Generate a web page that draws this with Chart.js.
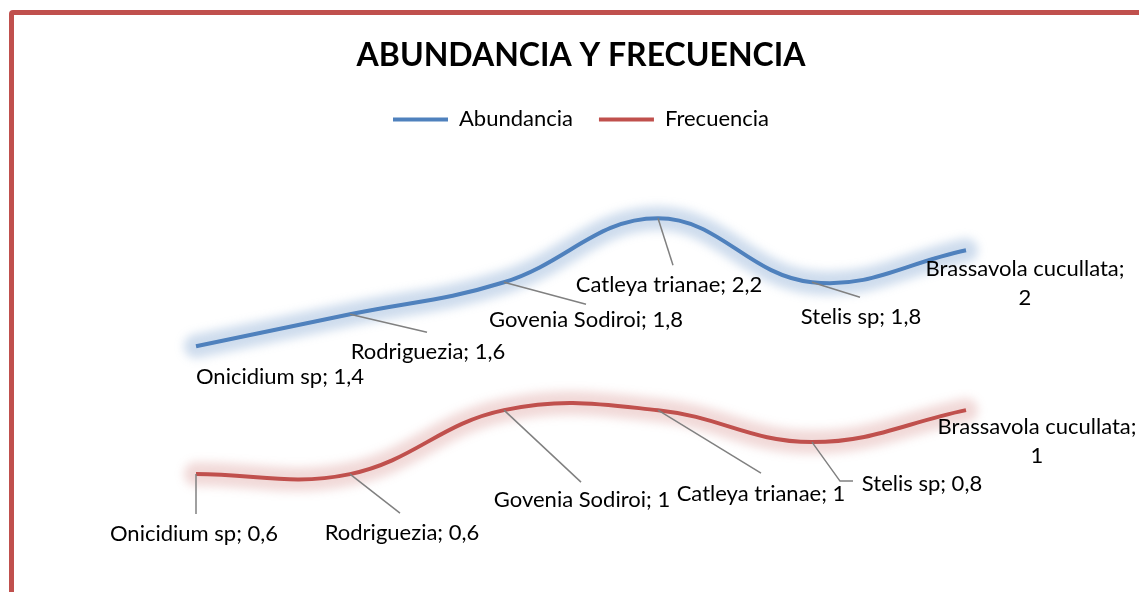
<!DOCTYPE html>
<html>
<head>
<meta charset="utf-8">
<script src="https://cdn.jsdelivr.net/npm/chart.js@4"></script>
<style>
  html, body { margin: 0; padding: 0; background: #fff; overflow: hidden; }
  #marco { position: absolute; left: 9px; top: 10px; width: 1400px; height: 900px;
           border: 5px solid #c0504d; border-radius: 4px; }
  #caja { position: absolute; left: 0; top: 0; width: 1139px; height: 592px; }
</style>
</head>
<body>
<div id="marco"></div>
<div id="caja"><canvas id="grafica"></canvas></div>
<script>
// datos
var categorias = ['Onicidium sp', 'Rodriguezia', 'Govenia Sodiroi', 'Catleya trianae', 'Stelis sp', 'Brassavola cucullata'];
var abundancia = [1.4, 1.6, 1.8, 2.2, 1.8, 2];
var frecuencia = [0.6, 0.6, 1, 1, 0.8, 1];

var azul = '#4f81bd';
var rojo = '#c0504d';
var fuente = 'Lato, "Open Sans", sans-serif';

// donde va cada etiqueta respecto a su punto (dx, dy del centro del texto) y la linea guia
var posAbundancia = [
    {dx: 84, dy: 31},
    {dx: 78, dy: 38, guia: [[77, 18]]},
    {dx: 82, dy: 38, guia: [[82, 22]]},
    {dx: 11, dy: 67, guia: [[15, 47]]},
    {dx: 49, dy: 35, guia: [[48, 15]]},
    {dx: 59, dy: 19, partir: true}
];
var posFrecuencia = [
    {dx: -2, dy: 60, guia: [[0, 40]]},
    {dx: 52, dy: 59, guia: [[50, 39]]},
    {dx: 78, dy: 90, guia: [[77, 72]]},
    {dx: 103, dy: 84, guia: [[103, 63]]},
    {dx: 110, dy: 42, guia: [[28, 39], [41, 39]]},
    {dx: 71, dy: 17, partir: true}
];

function numero(v){
    return String(v).replace('.', ',');
}

// halo difuso debajo de cada linea
var brillo = {
    id: 'brillo',
    beforeDatasetDraw(chart, args){
        var ctx = chart.ctx;
        var el = args.meta.dataset;
        var o = el.options;
        var ancho = o.borderWidth, color = o.borderColor, punta = o.borderCapStyle;
        ctx.save();
        ctx.filter = 'blur(5px)';
        o.borderWidth = 24;
        o.borderCapStyle = 'round';
        o.borderColor = chart.data.datasets[args.index].brillo;
        el.draw(ctx, chart.chartArea);
        ctx.restore();
        o.borderWidth = ancho;
        o.borderColor = color;
        o.borderCapStyle = punta;
    }
};

var etiquetas = {
    id: 'etiquetas',
    afterDatasetsDraw(chart, args, opts){
        var ctx = chart.ctx;
        ctx.save();
        ctx.font = '22px ' + fuente;
        ctx.textAlign = 'center';
        ctx.textBaseline = 'middle';
        chart.data.datasets.forEach(function(ds, i){
            var meta = chart.getDatasetMeta(i);
            var pos = opts.pos[i];
            meta.data.forEach(function(pt, j){
                var p = pos[j];
                if (p.guia) {
                    ctx.strokeStyle = '#808080';
                    ctx.lineWidth = 1.5;
                    ctx.beginPath();
                    ctx.moveTo(pt.x, pt.y);
                    p.guia.forEach(function(g){ ctx.lineTo(pt.x + g[0], pt.y + g[1]); });
                    ctx.stroke();
                }
                ctx.fillStyle = '#000';
                if (p.partir) {
                    ctx.fillText(chart.data.labels[j] + ';', pt.x + p.dx, pt.y + p.dy);
                    ctx.fillText(numero(ds.data[j]), pt.x + p.dx, pt.y + p.dy + 29);
                } else {
                    ctx.fillText(chart.data.labels[j] + '; ' + numero(ds.data[j]), pt.x + p.dx, pt.y + p.dy);
                }
            });
        });
        ctx.restore();
    }
};

var ctx = document.getElementById('grafica').getContext('2d');

var grafica = new Chart(ctx, {
    type: 'line',
    data: {
        labels: categorias,
        datasets: [{
            label: 'Abundancia',
            data: abundancia,
            borderColor: azul,
            backgroundColor: azul,
            brillo: 'rgba(79,129,189,0.28)',
            borderWidth: 4,
            tension: 0.4,
            pointRadius: 0
        }, {
            label: 'Frecuencia',
            data: frecuencia,
            borderColor: rojo,
            backgroundColor: rojo,
            brillo: 'rgba(192,80,77,0.22)',
            borderWidth: 4,
            tension: 0.4,
            pointRadius: 0
        }]
    },
    options: {
        responsive: true,
        maintainAspectRatio: false,
        animation: false,
        layout: { padding: { left: 119, right: 96, top: 0, bottom: 22 } },
        scales: {
            x: { display: false, offset: true },
            y: { display: false, min: 0, max: 2.6875 }
        },
        plugins: {
            title: {
                display: true,
                text: 'ABUNDANCIA Y FRECUENCIA',
                color: '#000',
                font: { family: fuente, size: 32, weight: 'bold' },
                padding: { top: 36, bottom: 8 }
            },
            legend: {
                labels: {
                    color: '#000',
                    font: { family: fuente, size: 22 },
                    usePointStyle: true,
                    pointStyle: 'line',
                    pointStyleWidth: 55,
                    boxHeight: 22,
                    padding: 26
                }
            },
            tooltip: { enabled: false },
            etiquetas: { pos: [posAbundancia, posFrecuencia] }
        }
    },
    plugins: [brillo, etiquetas]
});
</script>
</body>
</html>
